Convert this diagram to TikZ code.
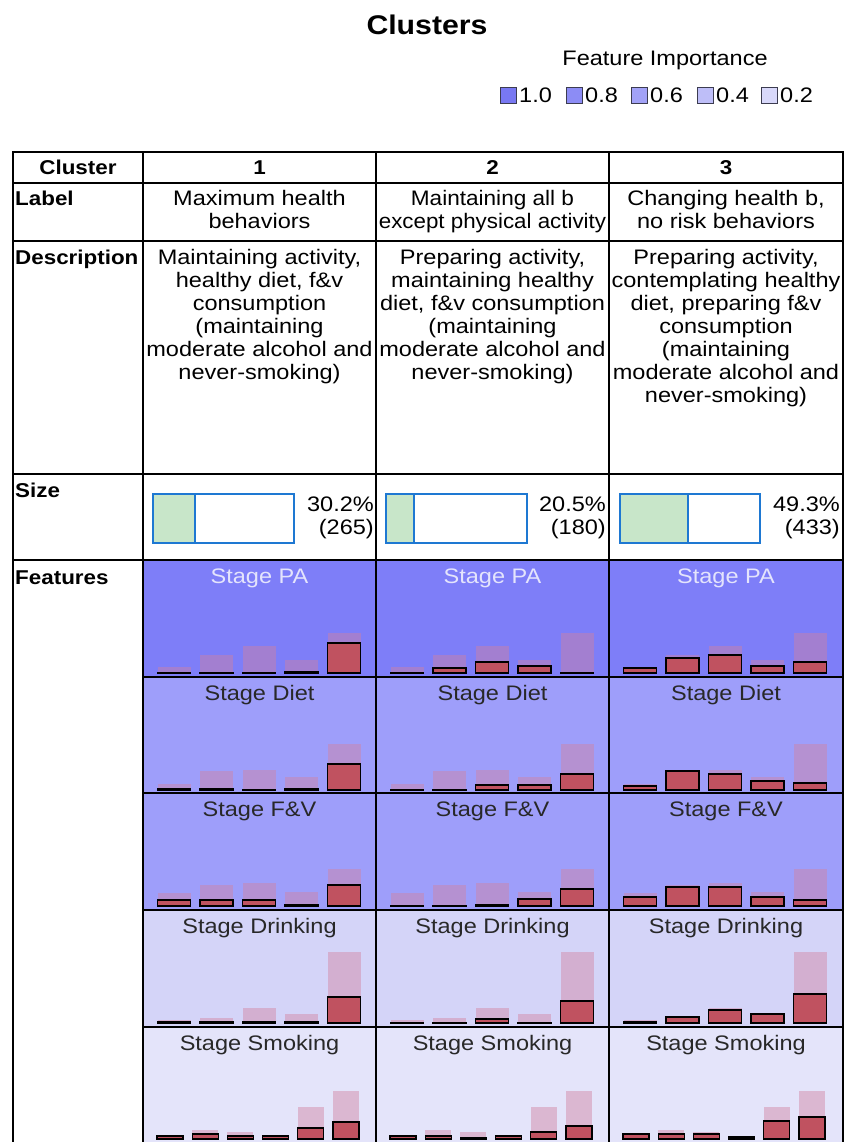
\documentclass[tikz,border=0pt]{standalone}
\usepackage{fontspec}
\setmainfont[FakeStretch=1.12]{Liberation Sans}
\definecolor{imp1}{RGB}{120,120,242}
\definecolor{imp2}{RGB}{140,140,245}
\definecolor{imp3}{RGB}{162,162,247}
\definecolor{imp4}{RGB}{190,190,248}
\definecolor{imp5}{RGB}{216,216,250}
\definecolor{rowPA}{RGB}{126,126,248}
\definecolor{rowDiet}{RGB}{158,158,250}
\definecolor{rowDrink}{RGB}{212,212,248}
\definecolor{rowSmoke}{RGB}{228,228,250}
\definecolor{barred}{RGB}{192,82,96}
\definecolor{barbg}{RGB}{210,130,160}
\definecolor{sizeblue}{RGB}{30,120,210}
\definecolor{sizegreen}{RGB}{200,230,201}
\definecolor{titlelight}{RGB}{228,228,252}
\definecolor{titledark}{RGB}{40,40,40}
\definecolor{legborder}{RGB}{60,60,80}

\newcommand\drawbars[5]{%
  \ifnum#3=5\relax
    \def\barW{33}\def\barP{42.5}\def\barO{14.5}%
  \else
    \def\barW{26}\def\barP{35.2}\def\barO{14}%
  \fi
  \foreach \h [count=\i from 0] in {#4}{\fill[bgbar] ({#1+\barO+\barP*\i},#2) rectangle ++(\barW,-\h);}
  \foreach \h [count=\i from 0] in {#5}{\draw[fgbar] ({#1+\barO+\barP*\i},#2) rectangle ++(\barW,{-max(\h,0.6)});}
}

\begin{document}
\begin{tikzpicture}[x=1pt,y=-1pt,
  txt/.style={font=\fontsize{21}{23}\selectfont, inner sep=0pt, align=center},
  hdr/.style={font=\fontsize{20}{23}\selectfont\bfseries, inner sep=0pt},
  ftitle/.style={font=\fontsize{21}{23}\selectfont, inner sep=0pt, anchor=base},
  sizetxt/.style={font=\fontsize{21}{23}\selectfont, inner sep=0pt, align=right, anchor=north east},
  legsq/.style={draw=legborder, line width=0.9pt, minimum size=16pt, inner sep=0pt, anchor=north west},
  legtxt/.style={font=\fontsize{21}{23}\selectfont, inner sep=0pt, anchor=base west},
  bgbar/.style={fill=barbg, fill opacity=0.45},
  fgbar/.style={fill=barred, draw=black, line width=1.3pt},
  sizebox/.style={draw=sizeblue, line width=1.4pt},
  grid/.style={line width=1.3pt, black},
  outer/.style={line width=2pt, black}]
\useasboundingbox (0,0) rectangle (854,1142);
\fill[white] (0,0) rectangle (854,1142);

% title and legend
\node[inner sep=0pt, font=\fontsize{27}{30}\selectfont\bfseries] (title) at (427,25) {Clusters};
\node[inner sep=0pt, anchor=base, font=\fontsize{21}{23}\selectfont] (legtitle) at (665,65.5) {Feature Importance};
\node[legsq, fill=imp1] (sq1) at (500,87) {};
\node[legtxt] (lt1) at (519,103) {1.0};
\node[legsq, fill=imp2] (sq2) at (566,87) {};
\node[legtxt] (lt2) at (585,103) {0.8};
\node[legsq, fill=imp3] (sq3) at (631,87) {};
\node[legtxt] (lt3) at (650,103) {0.6};
\node[legsq, fill=imp4] (sq4) at (697,87) {};
\node[legtxt] (lt4) at (716,103) {0.4};
\node[legsq, fill=imp5] (sq5) at (761,87) {};
\node[legtxt] (lt5) at (780,103) {0.2};

% feature row backgrounds and titles
\foreach \r/\top/\ttl/\bgc/\tc in {1/560/Stage PA/rowPA/titlelight,
    2/677/Stage Diet/rowDiet/titledark,
    3/793/Stage F\&V/rowDiet/titledark,
    4/910/Stage Drinking/rowDrink/titledark,
    5/1027/Stage Smoking/rowSmoke/titledark}{
  \fill[\bgc] (143,\top) rectangle (843,{\top+117});
  \foreach \c/\cx in {1/259.5,2/492.5,3/726}{
    \node[ftitle, text=\tc] (f\r-\c) at (\cx,{\top+23.5}) {\ttl};
  }
}

% bars: Stage PA
\drawbars{143}{673}{5}{6,18,27,13,40}{0,0,0,1,30}
\drawbars{376}{673}{5}{6,18,27,13,40}{0,5,11,7,0}
\drawbars{609}{673}{5}{6,18,27,13,40}{5,15,18,7,11}
% Stage Diet
\drawbars{143}{790}{5}{6,19,20,13,46}{1,1,0,1,26}
\drawbars{376}{790}{5}{6,19,20,13,46}{0,0,5,5,16}
\drawbars{609}{790}{5}{6,19,20,13,46}{4,19,16,9,7}
% Stage F&V
\drawbars{143}{906}{5}{13,21,23,14,37}{6,6,6,1,21}
\drawbars{376}{906}{5}{13,21,23,14,37}{0,0,1,7,17}
\drawbars{609}{906}{5}{13,21,23,14,37}{9,19,19,9,6}
% Stage Drinking
\drawbars{143}{1023}{5}{3,5,15,9,71}{1,1,1,1,26}
\drawbars{376}{1023}{5}{3,5,15,9,71}{0,0,4,0,22}
\drawbars{609}{1023}{5}{3,5,15,9,71}{1,6,13,9,29}
% Stage Smoking
\drawbars{143}{1139}{6}{4,9,7,0,32,48}{3,5,3,3,11,17}
\drawbars{376}{1139}{6}{4,9,7,0,32,48}{3,3,1,3,7,13}
\drawbars{609}{1139}{6}{4,9,7,0,32,48}{5,5,5,2,18,22}

% size row
\fill[sizegreen] (153,494) rectangle (195,543);
\draw[sizebox] (153,494) rectangle (294,543);
\draw[sizebox] (195,494) -- (195,543);
\fill[sizegreen] (386,494) rectangle (414,543);
\draw[sizebox] (386,494) rectangle (527,543);
\draw[sizebox] (414,494) -- (414,543);
\fill[sizegreen] (620,494) rectangle (688,543);
\draw[sizebox] (620,494) rectangle (760,543);
\draw[sizebox] (688,494) -- (688,543);
\node[sizetxt] (s1) at (374,497) {30.2\%\\(265)};
\node[sizetxt] (s2) at (606,497) {20.5\%\\(180)};
\node[sizetxt] (s3) at (840,497) {49.3\%\\(433)};

% header texts
\node[hdr, anchor=base] (hcl) at (78,175) {Cluster};
\node[hdr, anchor=base] (h1) at (259.5,175) {1};
\node[hdr, anchor=base] (h2) at (492.5,175) {2};
\node[hdr, anchor=base] (h3) at (726,175) {3};
\node[hdr, anchor=base west] (hlab) at (15,205.5) {Label};
\node[hdr, anchor=base west] (hdesc) at (15,264.5) {Description};
\node[hdr, anchor=base west] (hsize) at (15,497.5) {Size};
\node[hdr, anchor=base west] (hfeat) at (15,584.5) {Features};

% labels
\node[txt, anchor=north] (lab1) at (259.5,190) {Maximum health\\behaviors};
\node[txt, anchor=north] (lab2) at (492.5,190) {\scalebox{0.96}[1]{Maintaining all b}\\\scalebox{0.95}[1]{except physical activity}};
\node[txt, anchor=north] (lab3) at (726,190) {Changing health b,\\no risk behaviors};

% descriptions
\node[txt, anchor=north] (d1) at (259.5,249) {Maintaining activity,\\healthy diet, f\&v\\consumption\\(maintaining\\moderate alcohol and\\never-smoking)};
\node[txt, anchor=north] (d2) at (492.5,249) {Preparing activity,\\maintaining healthy\\diet, f\&v consumption\\(maintaining\\moderate alcohol and\\never-smoking)};
\node[txt, anchor=north] (d3) at (726,249) {Preparing activity,\\contemplating healthy\\diet, preparing f\&v\\consumption\\(maintaining\\moderate alcohol and\\never-smoking)};

% grid
\foreach \x in {143,376,609}{\draw[grid] (\x,152) -- (\x,1142);}
\foreach \y in {183,241,474,560}{\draw[grid] (13,\y) -- (843,\y);}
\foreach \y in {677,793,910,1027}{\draw[grid] (143,\y) -- (843,\y);}
\draw[outer] (13,1142) -- (13,152) -- (843,152) -- (843,1142);
\end{tikzpicture}
\end{document}
